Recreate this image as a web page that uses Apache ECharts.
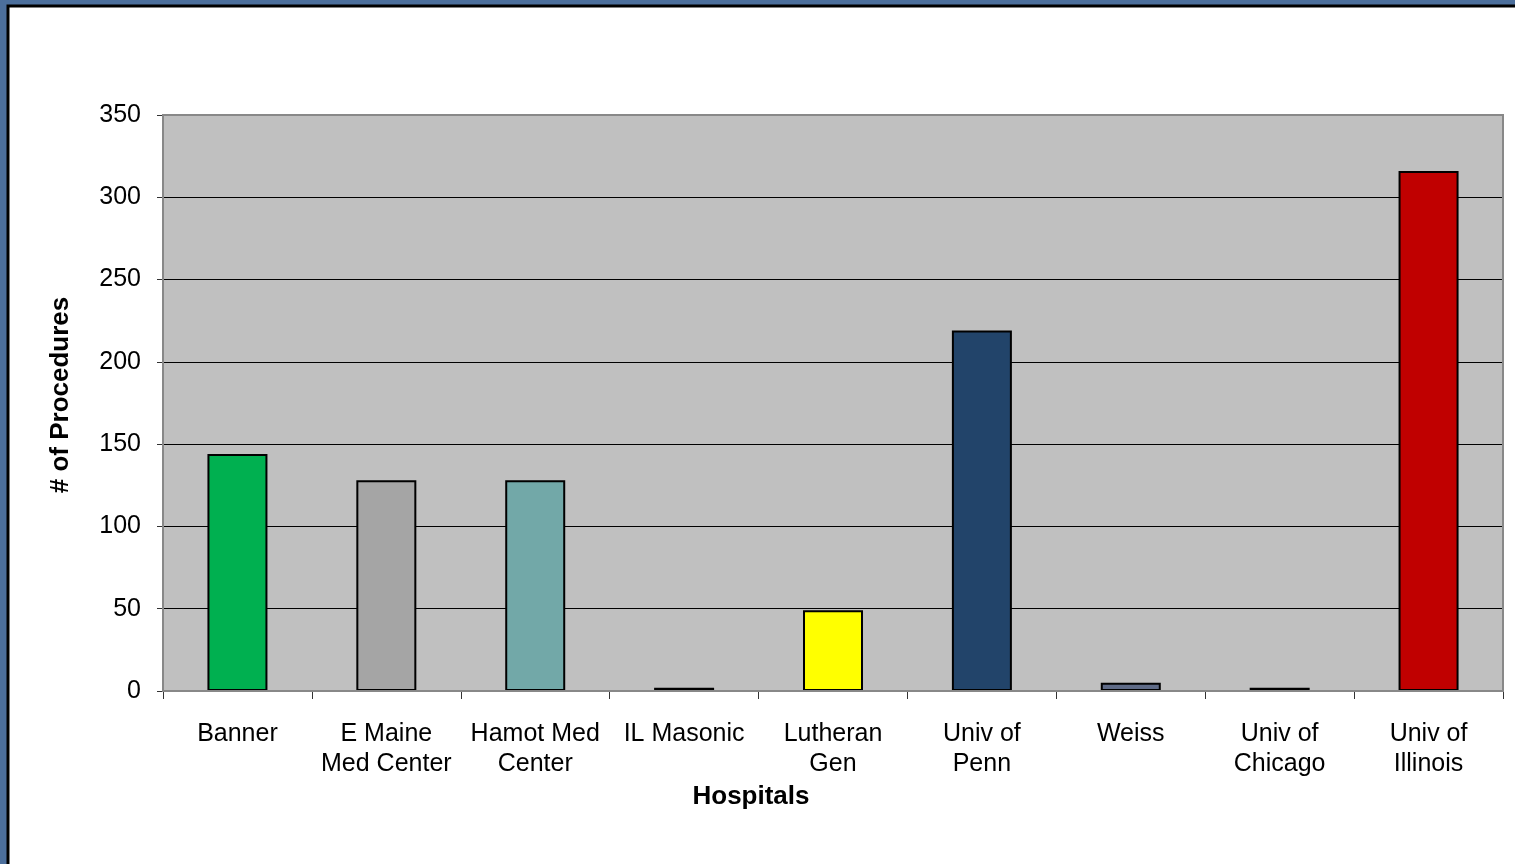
<!DOCTYPE html>
<html><head><meta charset="utf-8">
<script src="https://cdn.jsdelivr.net/npm/echarts@6/dist/echarts.min.js"></script>
<style>html,body{margin:0;padding:0;background:#4C6F9C;}#c{width:1515px;height:864px;}</style>
</head><body><div id="c"></div>
<script>
const categories = ['Banner','E Maine\nMed Center','Hamot Med\nCenter','IL Masonic','Lutheran\nGen','Univ of\nPenn','Weiss','Univ of\nChicago','Univ of\nIllinois'];
const procedures = [144, 128, 128, 2, 49, 219, 5, 2, 316];
const barColors = ['#00B050','#A5A5A5','#72A8A8','#000000','#FFFF00','#22446A','#5F6B87','#000000','#C00000'];
const yTicks = [0, 50, 100, 150, 200, 250, 300, 350];

const chart = echarts.init(document.getElementById('c'));
chart.setOption({
  backgroundColor: '#4C6F9C',
  animation: false,
  graphic: [
    {type:'rect', shape:{x:8, y:6, width:1520, height:870}, style:{fill:'#ffffff', stroke:'#000000', lineWidth:3}, z:-10},
    {type:'rect', shape:{x:163, y:115, width:1340, height:576}, style:{fill:'none', stroke:'#888888', lineWidth:2}, z:10}
  ],
  grid: {left:163, right:12, top:115, height:576, backgroundColor:'#C0C0C0', show:true, borderWidth:0},
  xAxis: {
    type:'category', data: categories,
    name:'Hospitals', nameLocation:'middle', nameGap:87,
    nameTextStyle:{fontFamily:'Liberation Sans', fontSize:26, fontWeight:'bold', color:'#000', padding:[0,164,0,0]},
    axisLine:{lineStyle:{color:'#333', width:1}},
    axisTick:{show:true, length:8, lineStyle:{color:'#333'}},
    axisLabel:{fontFamily:'Liberation Sans', fontSize:25, color:'#000', lineHeight:30, margin:28, interval:0}
  },
  yAxis: {
    type:'value', min:0, max:350, interval:50,
    name:'# of Procedures', nameLocation:'middle', nameGap:89,
    nameTextStyle:{fontFamily:'Liberation Sans', fontSize:26, fontWeight:'bold', color:'#000', padding:[0,0,0,16]},
    axisLine:{show:true, lineStyle:{color:'#333', width:1}},
    axisTick:{show:true, length:6, lineStyle:{color:'#333'}},
    axisLabel:{fontFamily:'Liberation Sans', fontSize:25, color:'#000', margin:22,
      formatter: v => yTicks.includes(v) ? String(v) : ''},
    splitLine:{show:true, lineStyle:{color:'#000', width:1}}
  },
  series: [{
    type:'bar', barWidth:60,
    data: procedures.map((v,i)=>({value:v, itemStyle:{color:barColors[i]}})),
    itemStyle:{borderColor:'#000', borderWidth:2}
  }]
});
</script></body></html>
